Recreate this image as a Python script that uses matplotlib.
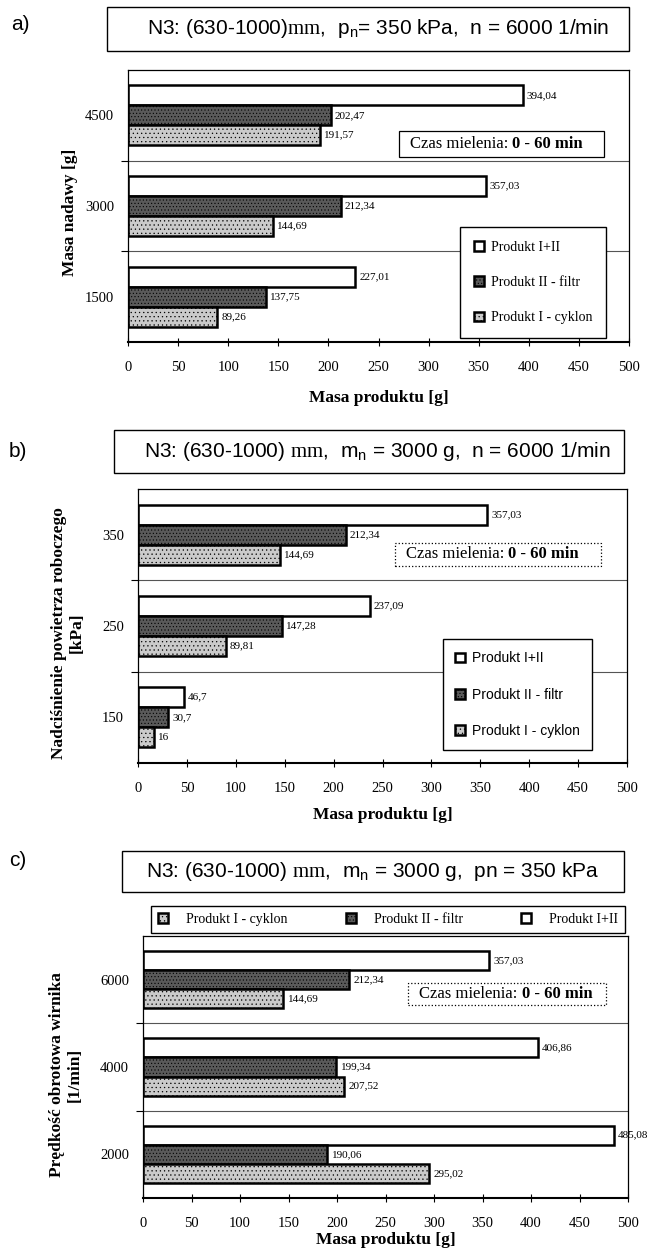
import numpy as np
import matplotlib
matplotlib.use("Agg")
from matplotlib import pyplot as plt
from matplotlib.patches import Rectangle
from matplotlib.text import Annotation

plt.rcParams['font.family'] = ['Liberation Sans', 'DejaVu Sans']
plt.rcParams['mathtext.fontset'] = 'custom'
plt.rcParams['mathtext.rm'] = 'Liberation Sans'
plt.rcParams['mathtext.sf'] = 'Liberation Serif'
plt.rcParams['hatch.linewidth'] = 0.4

# Data
series_labels = ["Produkt I+II", "Produkt II - filtr", "Produkt I - cyklon"]

a_categories = ["4500", "3000", "1500"]
a_total = [394.04, 357.03, 227.01]
a_filtr = [202.47, 212.34, 137.75]
a_cyklon = [191.57, 144.69, 89.26]

b_categories = ["350", "250", "150"]
b_total = [357.03, 237.09, 46.7]
b_filtr = [212.34, 147.28, 30.7]
b_cyklon = [144.69, 89.81, 16]

c_categories = ["6000", "4000", "2000"]
c_total = [357.03, 406.86, 485.08]
c_filtr = [212.34, 199.34, 190.06]
c_cyklon = [144.69, 207.52, 295.02]

x_ticks = list(range(0, 501, 50))

W, H = 655, 1250
SERIF = 'Liberation Serif'
FILTR = '#5a5a5a'
CYKLON = '#cacaca'


def fx(x):
    return x / W


def fy(y):
    return 1 - y / H


def px_rect(l, t, r, b):
    return [l / W, 1 - b / H, (r - l) / W, (b - t) / H]


def fmt(v):
    return f"{v:g}".replace('.', ',')


def title_box(fig, l, t, r, b, text, shift=0):
    fig.add_artist(Rectangle((fx(l), fy(b)), (r - l) / W, (b - t) / H,
                             transform=fig.transFigure, fill=False,
                             ec='black', lw=1.0))
    fig.text(fx((l + r) / 2 + shift), fy((t + b) / 2), text, ha='center',
             va='center', fontsize=15)


# "Czas mielenia" note: regular part + bold part inside a drawn frame
def czas_box(fig, l, t, r, b, ls):
    fig.add_artist(Rectangle((fx(l), fy(b)), (r - l) / W, (b - t) / H,
                             transform=fig.transFigure, fc='white',
                             ec='black', lw=0.9, ls=ls, zorder=3))
    t1 = fig.text(fx(l + 11), fy((t + b) / 2), "Czas mielenia: ",
                  family=SERIF, fontsize=12, va='center', zorder=4)
    fig.add_artist(Annotation("0 - 60 min", xy=(1, 0.5), xycoords=t1,
                              va='center', ha='left', family=SERIF,
                              fontsize=12, fontweight='bold', zorder=4))


def draw_panel(ax, categories, total, filtr, cyklon):
    y = np.arange(len(categories))
    h = 0.22
    containers = []
    for off, vals, fc, hatch in [(-h, total, 'white', None),
                                 (0, filtr, FILTR, '.....'),
                                 (h, cyklon, CYKLON, '....')]:
        bars = ax.barh(y + off, vals, height=h, color=fc, edgecolor='black',
                       linewidth=1.8, hatch=hatch)
        ax.bar_label(bars, labels=[fmt(v) for v in vals], padding=3,
                     fontsize=8, family=SERIF)
        containers.append(bars)
    ax.set_xlim(0, 500)
    ax.set_ylim(-0.5, len(categories) - 0.5)
    ax.invert_yaxis()
    ax.set_yticks(y)
    ax.set_yticklabels(categories, family=SERIF, fontsize=10.5)
    ax.set_yticks(y[:-1] + 0.5, minor=True)
    ax.tick_params(axis='y', which='major', length=0, pad=10)
    ax.tick_params(axis='y', which='minor', length=5, width=0.8)
    ax.grid(which='minor', axis='y', color='#555555', lw=0.8)
    ax.set_xticks(x_ticks)
    ax.set_xticklabels([str(t) for t in x_ticks], family=SERIF, fontsize=10.5)
    ax.tick_params(axis='x', direction='inout', length=6, width=0.8, pad=11)
    for s in ax.spines.values():
        s.set_linewidth(0.9)
    ax.spines['bottom'].set_linewidth(1.5)
    ax.set_xlabel("Masa produktu [g]", family=SERIF, fontweight='bold',
                  fontsize=12.5)
    ax.xaxis.label.set_va('center')
    return containers


fig = plt.figure(figsize=(W / 100, H / 100), dpi=100)

# panel a
fig.text(fx(20), fy(24), "a)", fontsize=15, ha='center', va='center')
title_box(fig, 107, 7, 629, 51,
          r"N3: (630-1000)$\mathsf{mm}$,  p$_{\mathrm{n}}$= 350 kPa,  n = 6000 1/min",
          shift=10)
ax_a = fig.add_axes(px_rect(128, 70, 629, 342))
cont = draw_panel(ax_a, a_categories, a_total, a_filtr, a_cyklon)
ax_a.xaxis.set_label_coords(0.5, (342 - 398) / (342 - 70))
fig.text(fx(70), fy(212), "Masa nadawy [g]", family=SERIF, fontweight='bold',
         fontsize=12.5, rotation=90, ha='center', va='center')
czas_box(fig, 399, 131, 604, 157, '-')
ax_a.legend(cont, series_labels, loc='upper right',
            bbox_to_anchor=(fx(613), fy(220)), bbox_transform=fig.transFigure,
            prop={'family': SERIF, 'size': 10}, fancybox=False,
            edgecolor='black', framealpha=1, handlelength=0.7,
            handleheight=0.7, handletextpad=0.5, labelspacing=1.6,
            borderpad=1.0)

# panel b
fig.text(fx(18), fy(452), "b)", fontsize=15, ha='center', va='center')
title_box(fig, 114, 430, 624, 473,
          r"N3: (630-1000) $\mathsf{mm}$,  m$_{\mathrm{n}}$ = 3000 g,  n = 6000 1/min",
          shift=8)
ax_b = fig.add_axes(px_rect(138, 489, 627, 763))
cont = draw_panel(ax_b, b_categories, b_total, b_filtr, b_cyklon)
ax_b.xaxis.set_label_coords(0.5, (763 - 815) / (763 - 489))
fig.text(fx(68), fy(633), "Nadciśnienie powietrza roboczego\n[kPa]",
         family=SERIF, fontweight='bold', fontsize=12.5, rotation=90,
         ha='center', va='center', linespacing=1.2)
czas_box(fig, 395, 543, 601, 566, ':')
ax_b.legend(cont, series_labels, loc='upper right',
            bbox_to_anchor=(fx(599), fy(632)), bbox_transform=fig.transFigure,
            prop={'size': 10}, fancybox=False,
            edgecolor='black', framealpha=1, handlelength=0.7,
            handleheight=0.7, handletextpad=0.5, labelspacing=1.6,
            borderpad=0.9)

# panel c
fig.text(fx(18), fy(861), "c)", fontsize=15, ha='center', va='center')
title_box(fig, 122, 851, 624, 892,
          r"N3: (630-1000) $\mathsf{mm}$,  m$_{\mathrm{n}}$ = 3000 g,  pn = 350 kPa")
ax_c = fig.add_axes(px_rect(143, 936, 628, 1198))
cont = draw_panel(ax_c, c_categories, c_total, c_filtr, c_cyklon)
ax_c.xaxis.set_label_coords(0.5, (1198 - 1240) / (1198 - 936))
fig.text(fx(66), fy(1075), "Prędkość obrotowa wirnika\n[1/min]",
         family=SERIF, fontweight='bold', fontsize=12.5, rotation=90,
         ha='center', va='center', linespacing=1.2)
czas_box(fig, 408, 983, 606, 1005, ':')
ax_c.legend(cont[::-1], series_labels[::-1], loc='lower left', ncol=3,
            mode='expand',
            bbox_to_anchor=(fx(151), fy(933), (625 - 151) / W, 26 / H),
            bbox_transform=fig.transFigure,
            prop={'family': SERIF, 'size': 10}, fancybox=False,
            edgecolor='black', framealpha=1, handlelength=0.7,
            handleheight=0.7, handletextpad=1.3, borderpad=0.5,
            borderaxespad=0)

fig.savefig("out.png", dpi=100)
